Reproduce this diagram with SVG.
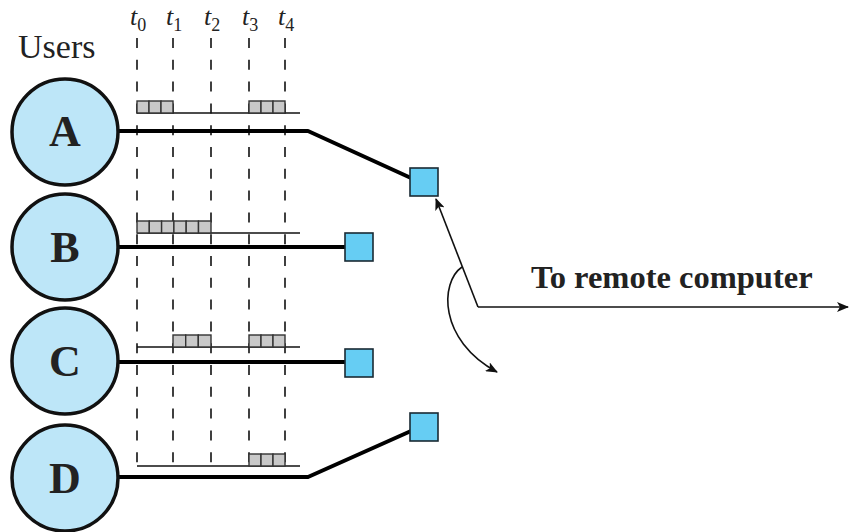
<svg xmlns="http://www.w3.org/2000/svg" width="850" height="532" viewBox="0 0 850 532">
<defs>
<style>
.user circle{fill:#bde6f8;stroke:#111;stroke-width:3.5}
.user text{font-family:"Liberation Serif",serif;font-weight:bold;font-size:44px;fill:#222;text-anchor:middle}
.thick{fill:none;stroke:#000;stroke-width:4;stroke-linejoin:round}
.thin{fill:none;stroke:#111;stroke-width:1.6}
.dash{stroke:#111;stroke-width:1.6;stroke-dasharray:10 11.8}
.port{fill:#66cdf3;stroke:#1a2a33;stroke-width:1.6}
.pkt{fill:#c9c9c9;stroke:#333;stroke-width:1.4}
.tl{font-family:"Liberation Serif",serif;font-style:italic;font-size:26px;fill:#222}
.sub{font-style:normal;font-size:18px}
.lbl{font-family:"Liberation Serif",serif;fill:#222}
.arr{fill:none;stroke:#111;stroke-width:1.6}
</style>
<marker id="ah" viewBox="0 0 12 10" refX="11" refY="5" markerWidth="12" markerHeight="10" markerUnits="userSpaceOnUse" orient="auto">
<path d="M0,0 L12,5 L0,10 L3,5 Z" fill="#111"/>
</marker>
</defs>
<rect width="850" height="532" fill="#fff"/>
<text class="lbl" x="18" y="58" font-size="34">Users</text>
<g id="timeline">
<text class="tl" x="130" y="25">t<tspan class="sub" dy="6">0</tspan></text>
<text class="tl" x="166" y="25">t<tspan class="sub" dy="6">1</tspan></text>
<text class="tl" x="204" y="25">t<tspan class="sub" dy="6">2</tspan></text>
<text class="tl" x="242" y="25">t<tspan class="sub" dy="6">3</tspan></text>
<text class="tl" x="278" y="25">t<tspan class="sub" dy="6">4</tspan></text>
<line class="dash" x1="137" y1="38" x2="137" y2="466"/>
<line class="dash" x1="173" y1="38" x2="173" y2="466"/>
<line class="dash" x1="211" y1="38" x2="211" y2="466"/>
<line class="dash" x1="249" y1="38" x2="249" y2="466"/>
<line class="dash" x1="285" y1="38" x2="285" y2="466"/>
</g>
<g id="connectors">
<path class="thick" d="M118,131 H308 L411,178"/>
<path class="thick" d="M118,247 H346"/>
<path class="thick" d="M118,362 H346"/>
<path class="thick" d="M118,477 H308 L411,431"/>
<line class="thin" x1="137" y1="113" x2="300" y2="113"/>
<line class="thin" x1="137" y1="233" x2="300" y2="233"/>
<line class="thin" x1="137" y1="347" x2="300" y2="347"/>
<line class="thin" x1="137" y1="466" x2="300" y2="466"/>
<line class="arr" x1="478" y1="307" x2="436" y2="199" marker-end="url(#ah)"/>
<line class="arr" x1="478" y1="307" x2="848" y2="307" marker-end="url(#ah)"/>
<path class="arr" d="M462,267 C440,282 438,340 497,372" marker-end="url(#ah)"/>
</g>
<g id="packets">
<rect class="pkt" x="137" y="101" width="12" height="12"/><rect class="pkt" x="149" y="101" width="12" height="12"/><rect class="pkt" x="161" y="101" width="12" height="12"/>
<rect class="pkt" x="249" y="101" width="12" height="12"/><rect class="pkt" x="261" y="101" width="12" height="12"/><rect class="pkt" x="273" y="101" width="12" height="12"/>
<rect class="pkt" x="137" y="221" width="12.3" height="12"/><rect class="pkt" x="149.3" y="221" width="12.3" height="12"/><rect class="pkt" x="161.6" y="221" width="12.3" height="12"/><rect class="pkt" x="173.9" y="221" width="12.3" height="12"/><rect class="pkt" x="186.2" y="221" width="12.3" height="12"/><rect class="pkt" x="198.5" y="221" width="12.5" height="12"/>
<rect class="pkt" x="173" y="335" width="12.7" height="12"/><rect class="pkt" x="185.7" y="335" width="12.6" height="12"/><rect class="pkt" x="198.3" y="335" width="12.7" height="12"/>
<rect class="pkt" x="249" y="335" width="12" height="12"/><rect class="pkt" x="261" y="335" width="12" height="12"/><rect class="pkt" x="273" y="335" width="12" height="12"/>
<rect class="pkt" x="249" y="454" width="12" height="12"/><rect class="pkt" x="261" y="454" width="12" height="12"/><rect class="pkt" x="273" y="454" width="12" height="12"/>
</g>
<g id="userA" class="user"><circle cx="65" cy="132" r="53"/><text x="65" y="146">A</text></g>
<g id="userB" class="user"><circle cx="65" cy="247" r="53"/><text x="65" y="262">B</text></g>
<g id="userC" class="user"><circle cx="65" cy="361" r="53"/><text x="65" y="376">C</text></g>
<g id="userD" class="user"><circle cx="65" cy="478" r="53"/><text x="65" y="493">D</text></g>
<g id="portA"><rect class="port" x="410" y="168" width="28" height="28"/></g>
<g id="portB"><rect class="port" x="345" y="233" width="28" height="28"/></g>
<g id="portC"><rect class="port" x="345" y="349" width="28" height="28"/></g>
<g id="portD"><rect class="port" x="410" y="413" width="28" height="28"/></g>
<g id="remote"><text class="lbl" x="531" y="288" font-size="32.5" font-weight="bold">To remote computer</text></g>
</svg>
